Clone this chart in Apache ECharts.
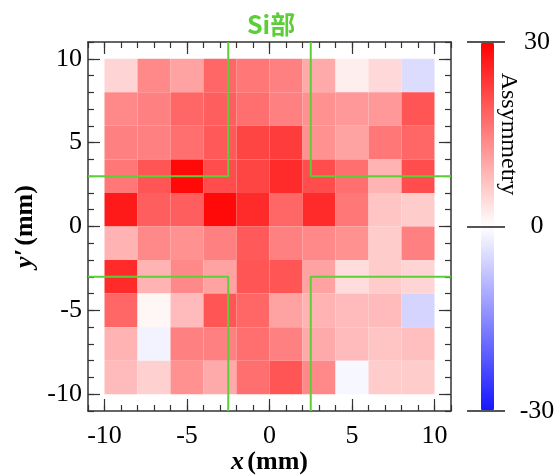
<!DOCTYPE html>
<html>
<head>
<meta charset="utf-8">
<script src="https://cdn.jsdelivr.net/npm/echarts@6/dist/echarts.min.js"></script>
<style>html,body{margin:0;padding:0;background:#fff}#c{width:560px;height:475px}</style>
</head>
<body>
<div id="c"></div>
<script>
// cell centres (mm)
const xCenters = [-9, -7, -5, -3, -1, 1, 3, 5, 7, 9];
const yCenters = [9, 7, 5, 3, 1, -1, -3, -5, -7, -9];
const cellSize = 2;
// asymmetry values, one row per y centre (top to bottom), columns follow xCenters
const row9  = [5, 14, 11, 18, 16, 15, 10, 2, 4.5, -4.5];
const row7  = [14, 15, 18, 19, 17, 15, 13, 12, 12, 20];
const row5  = [15, 15, 17, 19.5, 22, 23, 13, 11, 16, 18];
const row3  = [16, 20, 29, 21, 22, 25, 21, 17, 9, 21];
const row1  = [27, 19, 19, 29, 25, 18, 25, 16, 7, 6];
const rowm1 = [9, 14, 13, 15, 19.5, 15, 14, 13, 6, 15];
const rowm3 = [25, 9, 14, 11, 20, 20, 11, 4, 6, 5];
const rowm5 = [18, 1, 8, 20, 18, 11, 9, 8, 8, -5.5];
const rowm7 = [9, -1.5, 15, 15, 17, 15, 10, 8, 7, 7.5];
const rowm9 = [8, 5.5, 13, 10, 17, 20, 14, -1, 6, 6];
const rows = [row9, row7, row5, row3, row1, rowm1, rowm3, rowm5, rowm7, rowm9];

// axis ticks
const majorTicks = [-10, -5, 0, 5, 10];
const axisRange = [-11, 11];
const colorRange = [-30, 30];

// Si region boundaries (green lines)
const siLines = [
  [[-11, 3], [-2.5, 3], [-2.5, 11]],
  [[11, 3], [2.5, 3], [2.5, 11]],
  [[-11, -3], [-2.5, -3], [-2.5, -11]],
  [[11, -3], [2.5, -3], [2.5, -11]]
];

const cells = [];
rows.forEach((r, j) => r.forEach((v, i) => cells.push([xCenters[i], yCenters[j], v])));

const serif = 'Liberation Serif';
const fs = 26;
const frame = {color: '#333', width: 1.5};

function majorAxis(pos, gi, showLabel, extra) {
  return Object.assign({
    type: 'value', gridIndex: gi, position: pos, min: axisRange[0], max: axisRange[1],
    axisLine: {show: true, onZero: false, lineStyle: frame},
    axisTick: {show: true, inside: true, length: 12, customValues: majorTicks, lineStyle: {color: '#333', width: 1.2}},
    axisLabel: showLabel ? {show: true, customValues: majorTicks, fontFamily: serif, fontSize: fs, color: '#000', margin: pos === 'bottom' ? 12 : 6} : {show: false},
    splitLine: {show: false}
  }, extra || {});
}
function minorAxis(pos, gi) {
  return {
    type: 'value', gridIndex: gi, position: pos, min: axisRange[0], max: axisRange[1], interval: 1,
    axisLine: {show: false, onZero: false},
    axisTick: {show: true, inside: true, length: 6, lineStyle: {color: '#333', width: 1.2}},
    axisLabel: {show: false},
    splitLine: {show: false}
  };
}

const gridRect = {left: 88, top: 42, width: 363, height: 369, containLabel: false, outerBoundsMode: 'none'};
const nameRich = {
  i: {fontFamily: serif, fontSize: fs, fontWeight: 'bold', fontStyle: 'italic', color: '#000'},
  b: {fontFamily: serif, fontSize: fs, fontWeight: 'bold', color: '#000'}
};

const option = {
  animation: false,
  title: {
    text: 'Si部', left: 242, top: 7,
    textStyle: {color: '#5ccf38', fontSize: 25, fontWeight: 'bold', fontFamily: 'Noto Sans CJK SC'}
  },
  grid: [
    Object.assign({}, gridRect),
    Object.assign({}, gridRect),
    {left: 467, top: 42, width: 38, height: 369, containLabel: false, outerBoundsMode: 'none'}
  ],
  xAxis: [
    majorAxis('bottom', 0, true, {
      name: '{i|x} {b|(mm)}', nameLocation: 'middle', nameGap: 38, nameMoveOverlap: false,
      nameTextStyle: {rich: nameRich}
    }),
    majorAxis('top', 0, false),
    minorAxis('bottom', 1),
    minorAxis('top', 1),
    {type: 'value', gridIndex: 2, show: false, min: 0, max: 1}
  ],
  yAxis: [
    majorAxis('left', 0, true, {
      name: '{i|y′} {b|(mm)}', nameLocation: 'middle', nameGap: 50, nameMoveOverlap: false,
      nameTextStyle: {rich: nameRich}
    }),
    majorAxis('right', 0, false),
    minorAxis('left', 1),
    minorAxis('right', 1),
    {
      type: 'value', gridIndex: 2, position: 'right', min: colorRange[0], max: colorRange[1], interval: 30, z: 10,
      axisLine: {show: false}, axisTick: {show: false},
      axisLabel: {show: true, fontFamily: serif, fontSize: fs, color: '#000', margin: 32, align: 'center'},
      splitLine: {show: true, lineStyle: {color: '#555', width: 2}}
    }
  ],
  visualMap: {
    type: 'continuous', min: colorRange[0], max: colorRange[1], dimension: 2, seriesIndex: 0,
    calculable: false, left: 481, top: 42, itemWidth: 13, itemHeight: 369, padding: 0,
    text: null, inRange: {color: ['#1515ff', '#ffffff', '#ff0000']}
  },
  graphic: [{
    type: 'text', x: 508, y: 134, rotation: -Math.PI / 2,
    style: {text: 'Assymmetry', fontFamily: serif, fontSize: 24, fill: '#000', textAlign: 'center', textVerticalAlign: 'middle'}
  }],
  series: [
    {
      type: 'custom', xAxisIndex: 0, yAxisIndex: 0, data: cells,
      renderItem: function (params, api) {
        const x = api.value(0), y = api.value(1);
        const p0 = api.coord([x - cellSize / 2, y + cellSize / 2]);
        const p1 = api.coord([x + cellSize / 2, y - cellSize / 2]);
        return {type: 'rect', shape: {x: p0[0], y: p0[1], width: p1[0] - p0[0], height: p1[1] - p0[1]},
          style: {fill: api.visual('color')}};
      }
    }
  ].concat(siLines.map(l => ({
    type: 'line', xAxisIndex: 0, yAxisIndex: 0, data: l, symbol: 'none', z: 5,
    lineStyle: {color: '#5ccf38', width: 2}
  })))
};

echarts.init(document.getElementById('c')).setOption(option);
</script>
</body>
</html>
